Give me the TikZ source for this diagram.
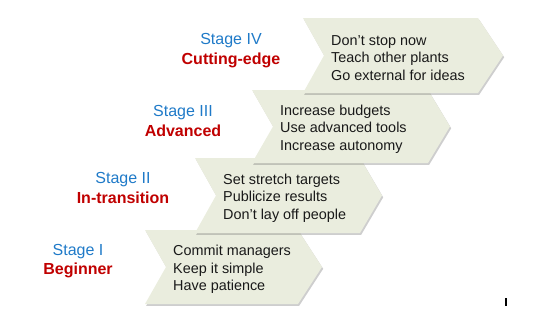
\documentclass[tikz,border=0pt]{standalone}
\usepackage{fontspec}
\setmainfont{Liberation Sans}
\usetikzlibrary{shadows}
\definecolor{chevfill}{RGB}{234, 237, 222}
\definecolor{stageblue}{RGB}{31, 122, 200}
\definecolor{stagered}{RGB}{192, 0, 0}

\begin{document}
\begin{tikzpicture}[x=1pt, y=-1pt,
  chev/.style={fill=chevfill, drop shadow={shadow xshift=1.2pt, shadow yshift=-1.8pt, opacity=.35, fill=black!55}},
  body/.style={anchor=west, align=left, inner sep=0pt, yshift=-2.5pt, text=black!90, font=\fontsize{14.4}{17.6}\selectfont},
  lbl/.style={align=center, inner sep=0pt, yshift=-1.5pt, font=\fontsize{16}{19.5}\selectfont}]
  \useasboundingbox (0,0) rectangle (541,309);

  % chevrons: left / top / bottom / corner / tip / name (later ones on top)
  \foreach \l/\t/\b/\c/\p/\n in {145/230/304/298/322/I, 195/158/233/360/382/II,
                                 252/90/163/428/450/III, 303/18/93/478/503/IV}{
    \path[chev] (\l,\t) -- (\c,\t) -- (\p,{(\t+\b)/2}) -- (\c,\b) -- (\l,\b)
      -- (\l+21,{(\t+\b)/2}) -- cycle;
    \coordinate (in\n) at (\l+28,{(\t+\b)/2});
  }

  % what to do in each stage
  \node[body] (txtI)   at (inI)   {Commit managers\\Keep it simple\\Have patience};
  \node[body] (txtII)  at (inII)  {Set stretch targets\\Publicize results\\Don’t lay off people};
  \node[body] (txtIII) at (inIII) {Increase budgets\\Use advanced tools\\Increase autonomy};
  \node[body] (txtIV)  at (inIV)  {Don’t stop now\\Teach other plants\\Go external for ideas};

  % stage names
  \node[lbl] (lblI)   at (78,259.5)  {\textcolor{stageblue}{Stage I}\\\textcolor{stagered}{\bfseries Beginner}};
  \node[lbl] (lblII)  at (123,186.5) {\textcolor{stageblue}{Stage II}\\\textcolor{stagered}{\bfseries In-transition}};
  \node[lbl] (lblIII) at (183,119.5) {\textcolor{stageblue}{Stage III}\\\textcolor{stagered}{\bfseries Advanced}};
  \node[lbl] (lblIV)  at (231,49)    {\textcolor{stageblue}{Stage IV}\\\textcolor{stagered}{\bfseries Cutting-edge}};

  % small mark bottom right
  \draw[line width=1.1pt] (506,298) -- (506,306);
\end{tikzpicture}
\end{document}
